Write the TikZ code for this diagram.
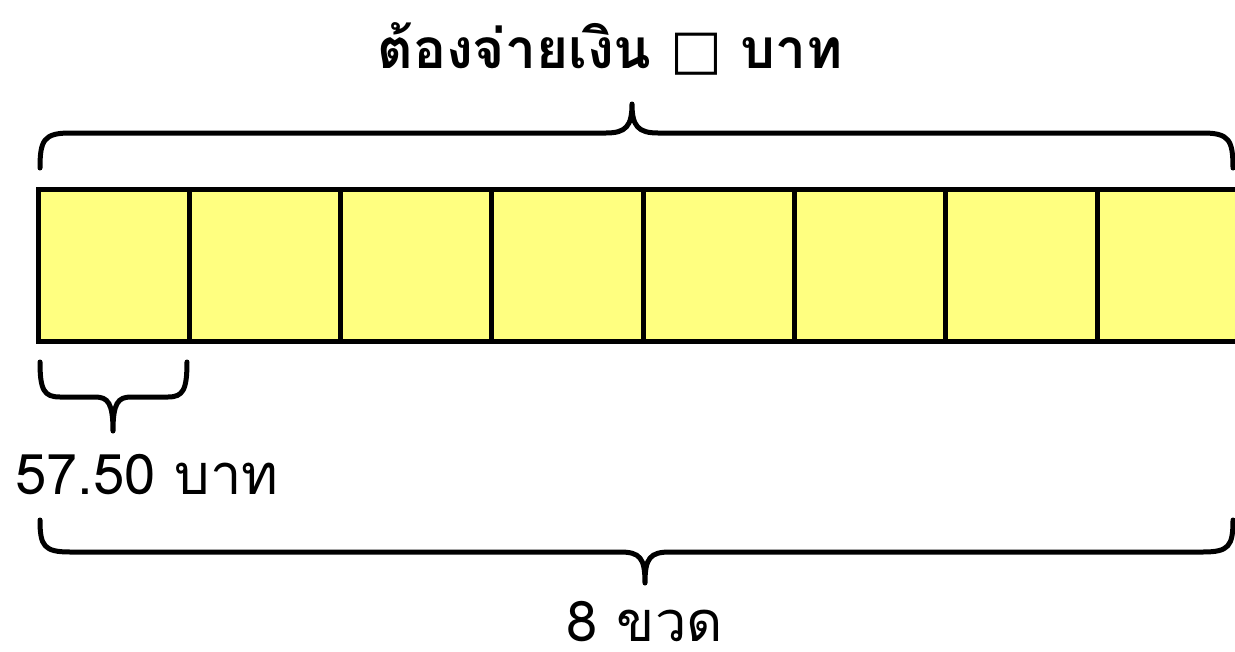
\documentclass[tikz,border=0pt]{standalone}
\usepackage{fontspec}
\newfontfamily\thaifont[Script=Thai]{Loma}
\newfontfamily\symfont{DejaVu Sans}
\definecolor{barfill}{RGB}{255,255,128}
\tikzset{
  cell/.style={draw=black, line width=5pt, fill=barfill},
  bracepath/.style={draw=black, line width=5pt, line cap=round, line join=round},
  lbl/.style={anchor=base, inner sep=0pt, font=\thaifont\fontsize{56}{68}\selectfont},
}
\begin{document}
\begin{tikzpicture}[x=1pt,y=-1pt]
\useasboundingbox (0,0) rectangle (1235,651);
\begin{scope}
\clip (0,0) rectangle (1235,651);
\foreach \i in {0,...,7} {
  \draw[cell] ({38+151.3*\i},189) rectangle ({38+151.3*(\i+1)},341);
}
\end{scope}
% top brace
\draw[bracepath] (40,168) .. controls (40,140) and (44,133) .. (70,133) -- (606,133)
  .. controls (626,133) and (632,126) .. (632,104)
  .. controls (632,126) and (638,133) .. (658,133) -- (1203,133)
  .. controls (1229,133) and (1233,140) .. (1233,168);
% small brace
\draw[bracepath] (40,362) .. controls (40,390) and (44,397) .. (60,397) -- (95,397)
  .. controls (108,397) and (113,403) .. (113,431)
  .. controls (113,403) and (118,397) .. (131,397) -- (168,397)
  .. controls (183,397) and (187,390) .. (187,362);
% bottom brace
\draw[bracepath] (40,520) .. controls (40,546) and (44,552) .. (70,552) -- (620,552)
  .. controls (640,552) and (645,558) .. (645,583)
  .. controls (645,558) and (650,552) .. (670,552) -- (1203,552)
  .. controls (1229,552) and (1233,546) .. (1233,520);
\node[lbl, font=\thaifont\bfseries\fontsize{55}{66}\selectfont] (top) at (610,68) {ต้องจ่ายเงิน {\symfont\bfseries □} บาท};
\node[lbl] (unit) at (147,494) {57.50 บาท};
\node[lbl] (count) at (645,641) {8 ขวด};
\end{tikzpicture}
\end{document}
